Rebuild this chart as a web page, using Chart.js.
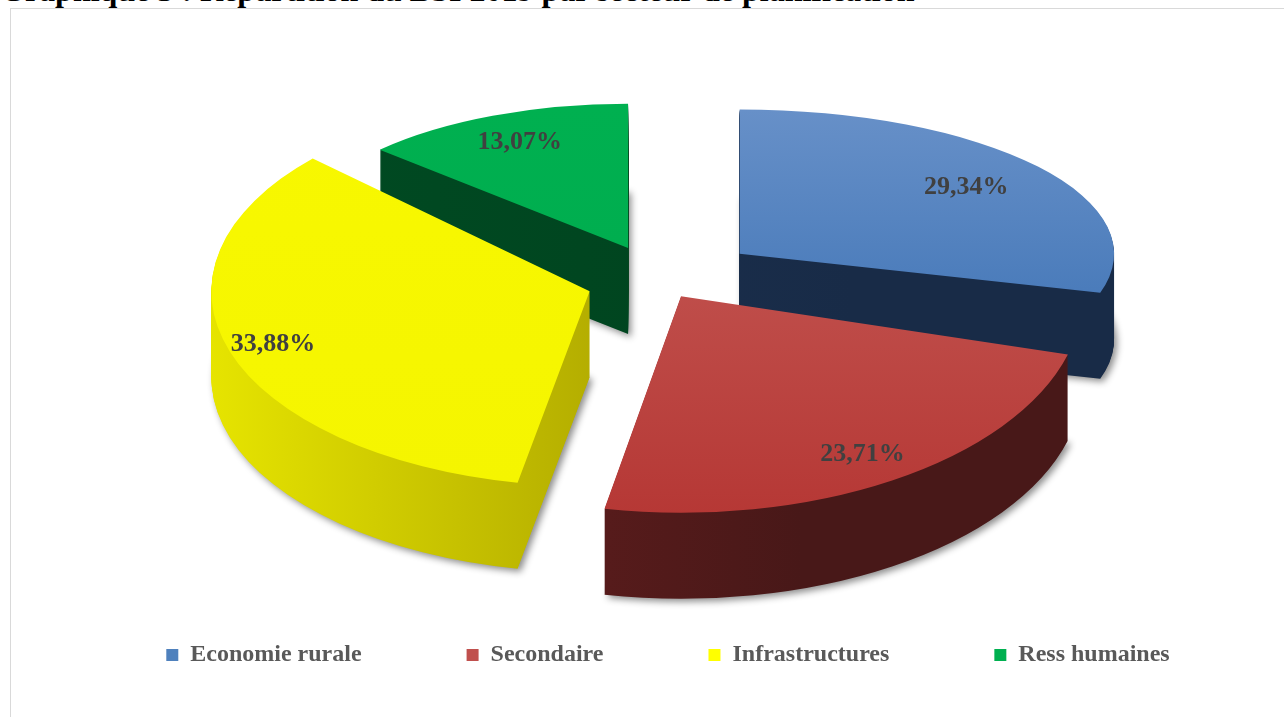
<!DOCTYPE html>
<html>
<head>
<meta charset="utf-8">
<script src="https://cdn.jsdelivr.net/npm/chart.js@4.4.0/dist/chart.umd.min.js"></script>
<style>
  html, body { margin: 0; padding: 0; background: #fff; overflow: hidden; }
  body { width: 1284px; height: 717px; position: relative; }
  #titre {
    position: absolute; left: 0; top: -26px; white-space: nowrap;
    font: bold 32px "Liberation Serif", serif; color: #000; line-height: 32px;
  }
  #cadre {
    position: absolute; left: 10px; top: 8px; width: 1300px; height: 740px;
    border: 1px solid #d9d9d9;
  }
  #wrap { position: absolute; left: 0; top: 0; width: 1284px; height: 677px; }
</style>
</head>
<body>
<div id="titre">Graphique 3 : Répartition du BSI 2019 par secteur de planification</div>
<div id="cadre"></div>
<div id="wrap"><canvas id="pieChart"></canvas></div>
<script>
// data
const secteurs = ['Economie rurale', 'Secondaire', 'Infrastructures', 'Ress humaines']
const parts = [29.34, 23.71, 33.88, 13.07]
const etiquettes = ['29,34%', '23,71%', '33,88%', '13,07%']

// colours / look
const couleurs = ['#4f81bd', '#c0504d', '#ffff00', '#00b050']
const hautDegrade = [['#6790c8', '#3a70b3'], ['#c8625e', '#b63835'], ['#f8f800', '#f5f500'], ['#00b050', '#00ac4e']]
const cotes = [['#1c3150', '#182b47'], ['#6e2020', '#481818'], ['#e6e400', '#a69e00'], ['#004a22', '#00441f']]
const eclat = [100, 40, 74, 80]          // explosion, px
const echX = [0.96, 1.03, 0.97, 0.87]    // fake perspective
const echY = [0.37, 0.555, 0.5, 0.37]
const posEtiq = [0.76, 0.86, 0.88, 0.8]
const ordre = [3, 0, 2, 1]               // back to front

const CX = 660, CY = 281, TILT = 0.45, R = 390, DEPTH = 86

Chart.defaults.font.family = "'Liberation Serif', 'Times New Roman', serif"

const pie3d = {
    id: 'pie3d',
    beforeDatasetsDraw(chart) {
        const ctx = chart.ctx
        const arcs = chart.getDatasetMeta(0).data

        ordre.forEach(i => {
            const arc = arcs[i]
            const mid = (arc.startAngle + arc.endAngle) / 2
            const ax = CX + Math.cos(mid) * eclat[i]
            const ay = CY + Math.sin(mid) * eclat[i] * TILT
            const saved = arc.options

            const poser = (dy) => {
                ctx.translate(ax, ay + dy)
                ctx.scale(echX[i], echY[i])
                ctx.translate(-arc.x, -arc.y)
            }

            // side walls
            const gSide = ctx.createLinearGradient(arc.x - R, 0, arc.x + R * 0.3, 0)
            gSide.addColorStop(0, cotes[i][0])
            gSide.addColorStop(1, cotes[i][1])
            arc.options = Object.assign({}, saved, {backgroundColor: gSide, borderWidth: 0})
            for (let k = DEPTH; k >= 1; k--) {
                ctx.save()
                if (k === DEPTH) {
                    ctx.shadowColor = 'rgba(0,0,0,0.45)'
                    ctx.shadowBlur = 7
                    ctx.shadowOffsetX = 3
                    ctx.shadowOffsetY = 3
                }
                poser(k)
                arc.draw(ctx)
                ctx.restore()
            }

            // top face
            const gTop = ctx.createLinearGradient(0, arc.y - R, 0, arc.y + R)
            gTop.addColorStop(0, hautDegrade[i][0])
            gTop.addColorStop(1, hautDegrade[i][1])
            arc.options = Object.assign({}, saved, {backgroundColor: gTop, borderWidth: 0})
            ctx.save()
            poser(0)
            arc.draw(ctx)
            ctx.restore()
            arc.options = saved
        })

        // data labels
        ctx.save()
        ctx.font = 'bold 26px "Liberation Serif", serif'
        ctx.fillStyle = '#404040'
        ctx.textAlign = 'center'
        ctx.textBaseline = 'middle'
        arcs.forEach((arc, i) => {
            const mid = (arc.startAngle + arc.endAngle) / 2
            const ax = CX + Math.cos(mid) * eclat[i]
            const ay = CY + Math.sin(mid) * eclat[i] * TILT
            const rr = arc.outerRadius * posEtiq[i]
            ctx.fillText(etiquettes[i], ax + Math.cos(mid) * rr * echX[i], ay + Math.sin(mid) * rr * echY[i])
        })
        ctx.restore()
        return false
    }
}

const canvas = document.getElementById('pieChart')
new Chart(canvas, {
    type: 'pie',
    data: {
        labels: secteurs,
        datasets: [{
            data: parts,
            backgroundColor: couleurs,
            borderWidth: 0
        }]
    },
    options: {
        responsive: true,
        maintainAspectRatio: false,
        animation: false,
        radius: R,
        layout: { padding: { left: 52 } },
        plugins: {
            tooltip: { enabled: false },
            legend: {
                position: 'bottom',
                labels: {
                    boxWidth: 12,
                    boxHeight: 12,
                    padding: 105,
                    color: '#595959',
                    font: { size: 24, weight: 'bold' }
                }
            }
        }
    },
    plugins: [pie3d]
});
</script>
</body>
</html>
